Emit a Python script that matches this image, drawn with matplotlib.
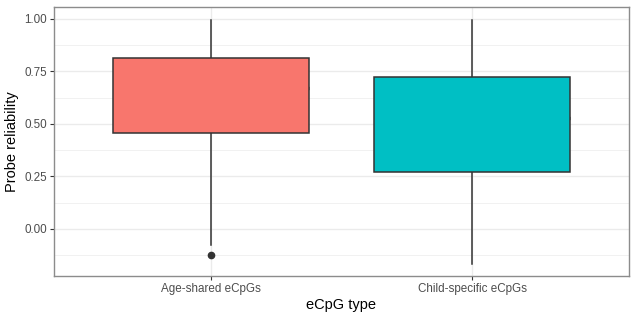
import numpy as np
import matplotlib.pyplot as plt
from matplotlib.ticker import MultipleLocator

plt.rcParams['font.family'] = ['Liberation Sans', 'DejaVu Sans']

# Kutu grafiği istatistikleri
kategoriler = ["Age-shared eCpGs", "Child-specific eCpGs"]
renkler = ["#F8766D", "#00BFC4"]
q1 = [0.457, 0.271]
medyan = [0.671, 0.529]
q3 = [0.814, 0.724]
alt_bigi = [-0.076, -0.167]
ust_bigi = [0.995, 0.995]
aykiri = [[-0.124], []]

W, H = 632, 314
fig = plt.figure(figsize=(W / 100, H / 100), dpi=100)
ax = fig.add_axes([54 / W, (H - 276) / H, (629 - 54) / W, (276 - 7) / H])

stats = []
for i in range(len(kategoriler)):
    stats.append(dict(med=medyan[i], q1=q1[i], q3=q3[i],
                      whislo=alt_bigi[i], whishi=ust_bigi[i],
                      fliers=aykiri[i], label=kategoriler[i]))

koyu = "#333333"
bp = ax.bxp(stats, positions=[1, 2], widths=0.75, patch_artist=True,
            showcaps=False,
            boxprops=dict(edgecolor=koyu, linewidth=1.1),
            medianprops=dict(color=koyu, linewidth=2.4),
            whiskerprops=dict(color=koyu, linewidth=1.1),
            flierprops=dict(marker="o", markerfacecolor=koyu,
                            markeredgecolor=koyu, markersize=4.5))
for patch, r in zip(bp["boxes"], renkler):
    patch.set_facecolor(r)
    patch.set_zorder(3)

ax.set_xlim(0.4, 2.6)
ax.set_ylim(-0.224, 1.057)
ax.yaxis.set_major_locator(MultipleLocator(0.25))
ax.yaxis.set_minor_locator(MultipleLocator(0.125))
ax.set_yticks([0, 0.25, 0.5, 0.75, 1.0])
ax.set_yticklabels(["0.00", "0.25", "0.50", "0.75", "1.00"])

# ggplot theme_bw benzeri ızgara
ax.set_axisbelow(True)
ax.grid(True, which="major", color="#EBEBEB", linewidth=1.0)
ax.grid(True, which="minor", axis="y", color="#EBEBEB", linewidth=0.5)
for s in ax.spines.values():
    s.set_color("#8C8C8C")
    s.set_linewidth(1.0)

ax.tick_params(axis="both", which="major", length=3, width=0.8, color=koyu,
               labelsize=8.4, labelcolor="#4D4D4D", pad=2)
ax.tick_params(axis="y", which="minor", length=0)

ax.set_xlabel("eCpG type", fontsize=10.5, color="black", labelpad=2)
ax.set_ylabel("Probe reliability", fontsize=10.5, color="black", labelpad=4)

fig.savefig("out.png", dpi=100)
